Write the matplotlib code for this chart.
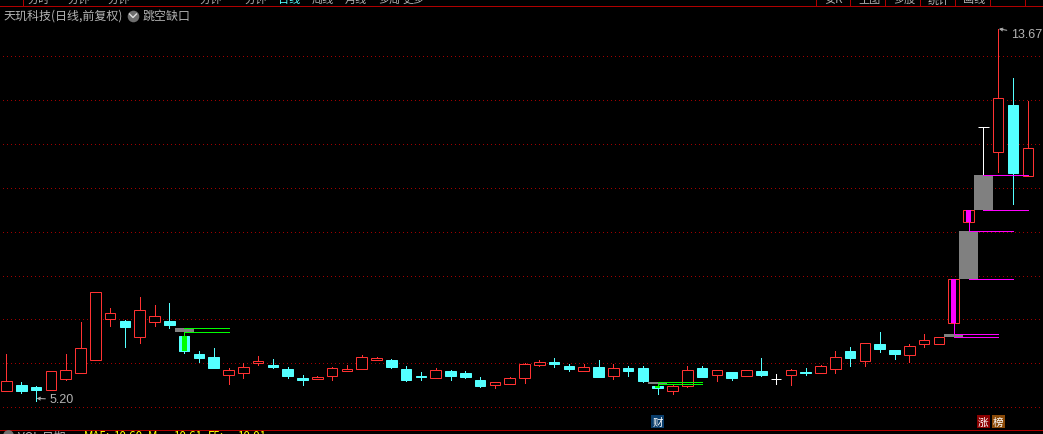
import matplotlib
matplotlib.use('Agg')
import matplotlib.pyplot as plt
from matplotlib.patches import Rectangle

plt.rcParams['font.family'] = ['Noto Sans CJK SC', 'DejaVu Sans']

# daily candles: body top, body bottom, high, low
body_top = [5.64, 5.56, 5.50, 5.87, 5.89, 6.39, 7.67, 7.19, 7.02, 7.26,
            7.12, 7.02, 6.67, 6.26, 6.20, 5.89, 5.96, 6.10, 6.01, 5.92,
            5.72, 5.73, 5.94, 5.92, 6.19, 6.17, 6.13, 5.92, 5.76, 5.89,
            5.88, 5.83, 5.67, 5.62, 5.71, 6.04, 6.08, 6.08, 5.99, 5.96,
            5.97, 5.94, 5.95, 5.95, 5.54, 5.54, 5.89, 5.95, 5.89, 5.85,
            5.89, 5.88, 5.69, 5.89, 5.85, 5.98, 6.19, 6.33, 6.51, 6.49,
            6.36, 6.45, 6.58, 6.64, 7.97, 9.54, 11.43, 12.09, 11.94, 10.95]
body_bot = [5.41, 5.43, 5.44, 5.45, 5.70, 5.82, 6.13, 7.05, 6.88, 6.64,
            7.00, 6.93, 6.33, 6.17, 5.95, 5.79, 5.82, 6.05, 5.97, 5.75,
            5.68, 5.69, 5.75, 5.87, 5.91, 6.13, 5.97, 5.67, 5.74, 5.72,
            5.76, 5.74, 5.54, 5.56, 5.59, 5.72, 6.02, 6.04, 5.92, 5.88,
            5.74, 5.75, 5.88, 5.65, 5.49, 5.43, 5.54, 5.74, 5.79, 5.72,
            5.75, 5.79, 5.69, 5.79, 5.84, 5.82, 5.93, 6.17, 6.11, 6.38,
            6.26, 6.23, 6.48, 6.48, 6.98, 9.28, 11.43, 10.87, 10.39, 10.31]
highs = [6.26, 5.63, 5.54, 5.87, 6.26, 6.99, 7.67, 7.31, 7.04, 7.56,
         7.38, 7.43, 6.77, 6.33, 6.39, 5.95, 6.05, 6.22, 6.15, 5.96,
         5.79, 5.76, 5.96, 6.01, 6.24, 6.20, 6.15, 5.99, 5.85, 5.95,
         5.90, 5.88, 5.74, 5.62, 5.74, 6.06, 6.13, 6.17, 6.04, 6.04,
         6.13, 6.04, 5.99, 5.99, 5.58, 5.56, 5.99, 5.99, 5.89, 5.85,
         5.89, 6.17, 5.81, 5.92, 5.95, 6.01, 6.33, 6.42, 6.51, 6.77,
         6.36, 6.49, 6.72, 6.64, 7.97, 9.54, 11.43, 13.67, 12.55, 12.03]
lows = [5.41, 5.38, 5.20, 5.45, 5.66, 5.82, 6.13, 6.89, 6.42, 6.52,
        6.91, 6.86, 6.29, 6.07, 5.95, 5.58, 5.72, 6.01, 5.95, 5.72,
        5.56, 5.69, 5.68, 5.87, 5.91, 6.13, 5.95, 5.65, 5.67, 5.72,
        5.67, 5.72, 5.51, 5.49, 5.59, 5.60, 6.00, 5.97, 5.88, 5.88,
        5.74, 5.70, 5.76, 5.63, 5.35, 5.35, 5.51, 5.74, 5.65, 5.67,
        5.75, 5.76, 5.58, 5.56, 5.79, 5.82, 5.83, 5.99, 5.99, 6.31,
        6.15, 6.08, 6.42, 6.48, 6.72, 9.07, 10.34, 10.42, 9.69, 10.31]
# 0 = up (red), 1 = down (cyan), 2 = flat (white)
kinds = [0, 1, 1, 0, 0, 0, 0, 0, 1, 0,
         0, 1, 1, 1, 1, 0, 0, 0, 1, 1,
         1, 0, 0, 0, 0, 0, 1, 1, 1, 0,
         1, 1, 1, 0, 0, 0, 0, 1, 1, 0,
         1, 0, 1, 1, 1, 0, 0, 1, 0, 1,
         0, 1, 2, 0, 1, 0, 0, 1, 0, 1,
         1, 0, 0, 0, 0, 0, 2, 0, 1, 0]

# price gaps: first candle, band top, band bottom, colour
gap_index = [12, 44, 64, 65, 66]
gap_top = [6.85, 5.62, 6.71, 9.06, 10.34]
gap_bot = [6.76, 5.58, 6.64, 7.97, 9.54]
gap_color = ['#00ff00', '#00ff00', '#ff00ff', '#ff00ff', '#ff00ff']
filled_candles = [12, 44, 64, 65]

grid_prices = [5.05, 6.05, 7.05, 8.05, 9.05, 10.05, 11.05, 12.05, 13.05]

tab_labels = ['分时', '分钟', '分钟', '分钟', '分钟', '日线', '周线', '月线', '多周', '更多']
tab_x = [28, 68, 108, 200, 245, 278, 312, 345, 378, 402]
right_labels = ['安K', '主图', '多股', '统计', '画线', '']
right_x = [824, 858, 893, 928, 963, 1030]
foot_labels = ['MA5:', '10.60', 'M', '10.61', 'F5:', '10.01']
foot_x = [84, 113, 148, 173, 208, 237]
markers = [(44, '财', '#0a3d6b'), (66, '涨', '#8b0000'), (67, '榜', '#8a4a08')]

RED = '#ff3232'
CYAN = '#54ffff'
WHITE = '#ffffff'
GRAY = '#808080'
FRAME = '#b00000'
PX = 0.72

fig = plt.figure(figsize=(10.43, 4.35), dpi=100, facecolor='black')
ax = fig.add_axes([0, 0, 1, 1], facecolor='black')
ax.set_xlim(-0.439, 70.03)
ax.set_ylim(4.44, 14.35)
ax.axis('off')

for p in grid_prices:
    ax.plot([-0.24, 70.03], [p, p], color='#a00000', lw=PX, linestyle=(0, (1, 3.4)),
            dash_capstyle='butt', antialiased=False, zorder=1)

for i, t, b, col in zip(gap_index, gap_top, gap_bot, gap_color):
    ax.add_patch(Rectangle((i - 0.64, b), 1.28, t - b, facecolor=GRAY, edgecolor='none', zorder=2))
    ax.plot([i, i + 3], [t, t], color=col, lw=PX, zorder=5)
    ax.plot([i, i + 3], [b, b], color=col, lw=PX, zorder=5)

colors = [RED, CYAN, WHITE]
w = 0.71
for i in range(len(body_top)):
    col = colors[kinds[i]]
    ax.plot([i, i], [lows[i], highs[i]], color=col, lw=PX, zorder=3)
    face = 'black' if kinds[i] == 0 else col
    ax.add_patch(Rectangle((i - w / 2, body_bot[i]), w, body_top[i] - body_bot[i], facecolor=face,
                           edgecolor=col, lw=PX, zorder=4))

# the signal candles get a coloured core and a stem up or down to their gap band
for i, t, b, col in zip(gap_index, gap_top, gap_bot, gap_color):
    if i not in filled_candles:
        continue
    ax.add_patch(Rectangle((i - 0.17, body_bot[i]), 0.34, body_top[i] - body_bot[i], facecolor=col,
                           edgecolor='none', zorder=5))
    if b > body_top[i]:
        ax.plot([i, i], [body_top[i], b], color=col, lw=PX, zorder=5)
    else:
        ax.plot([i, i], [t, body_bot[i]], color=col, lw=PX, zorder=5)

# highest and lowest price labels
num_font = ['Liberation Sans', 'DejaVu Sans']
ax.annotate('13.67', xy=(67.05, 13.67), xytext=(12, -5), textcoords='offset pixels', color='#b4b4b4',
            fontsize=9, family=num_font, va='center', ha='left',
            arrowprops=dict(arrowstyle='->', color='#b4b4b4', lw=PX, mutation_scale=5, shrinkA=1, shrinkB=0))
ax.annotate('5.20', xy=(2.03, 5.25), xytext=(13, -1), textcoords='offset pixels', color='#b4b4b4',
            fontsize=9, family=num_font, va='center', ha='left',
            arrowprops=dict(arrowstyle='->', color='#b4b4b4', lw=PX, mutation_scale=5, shrinkA=1, shrinkB=0))

# overlay in picture pixels for the software's chrome
ui = fig.add_axes([0, 0, 1, 1], facecolor='none')
ui.set_xlim(0, 1043)
ui.set_ylim(435, 0)
ui.axis('off')
ui.plot([0, 1043], [6.5, 6.5], color=FRAME, lw=PX)
ui.plot([0, 1043], [430.5, 430.5], color=FRAME, lw=PX)
for x in [23, 816, 850, 885, 920, 955, 990, 1025]:
    ui.plot([x, x], [0, 6.5], color=FRAME, lw=PX)

ui.text(3, 16.5, '天玑科技(日线,前复权)', color='#b4b4b4', fontsize=8.64, va='center', ha='left')
ui.scatter([133], [16.5], s=70, color='#6e6e6e', zorder=3, linewidths=0)
ui.plot([129.5, 133, 136.5], [15, 18.5, 15], color='#e0e0e0', lw=1, zorder=4)
ui.text(143, 16.5, '跳空缺口', color='#b4b4b4', fontsize=8.64, va='center', ha='left')

for i, label, col in markers:
    px = 6.5 + 14.8 * i
    ui.add_patch(Rectangle((px - 6.5, 416), 13, 13, facecolor=col, edgecolor='none'))
    ui.text(px, 422.5, label, color='white', fontsize=7.6, va='center', ha='center')

# tab strip and status line are cut by the edge of the picture
head = fig.add_axes([0, 1 - 6 / 435, 1, 6 / 435], facecolor='none')
head.set_xlim(0, 1043)
head.set_ylim(6, 0)
head.axis('off')
for x, label in zip(tab_x, tab_labels):
    col = '#54ffff' if label == '日线' else '#b4b4b4'
    head.text(x, 0, label, color=col, fontsize=8, va='center', ha='left', clip_on=True)
for x, label in zip(right_x, right_labels):
    head.text(x, 0, label, color='#b4b4b4', fontsize=8, va='center', ha='left', clip_on=True)

foot = fig.add_axes([0, 0, 1, 4 / 435], facecolor='none')
foot.set_xlim(0, 1043)
foot.set_ylim(435, 431)
foot.axis('off')
foot.text(18, 437, 'VOL 日期', color='#b4b4b4', fontsize=8.4, va='center', ha='left', clip_on=True)
foot.scatter([8], [436], s=60, color='#6e6e6e', linewidths=0, clip_on=True)
for x, label in zip(foot_x, foot_labels):
    foot.text(x, 437, label, color='#ffff00', fontsize=8.4, va='center', ha='left', clip_on=True)

fig.savefig('out.png', dpi=100, facecolor='black')
